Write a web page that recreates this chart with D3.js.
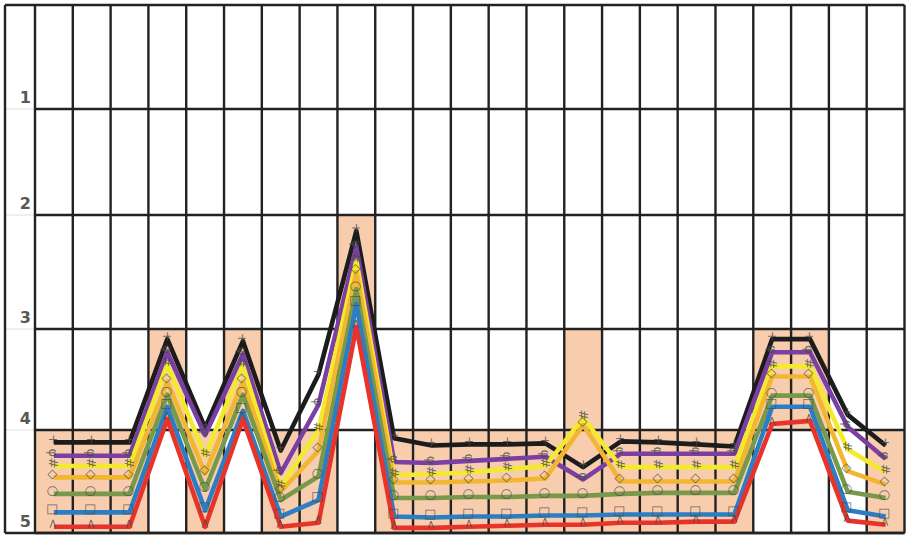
<!DOCTYPE html>
<html><head><meta charset="utf-8">
<script src="https://cdn.jsdelivr.net/npm/d3@7"></script>
<style>html,body{margin:0;padding:0;background:#fff;}svg{display:block;}</style>
</head><body><svg id="c" width="912" height="539"></svg>
<script>
// ---- data ----
const categories = ["c1","c2","c3","c4","c5","c6","c7","c8","c9","c10","c11","c12","c13","c14","c15","c16","c17","c18","c19","c20","c21","c22","c23"];
const yTicks = [1, 2, 3, 4, 5];
const yTickLabels = ["1", "2", "3", "4", "5"];
const shadeLo = [4,4,4,3,4,3,4,4,2,4,4,4,4,4,3,4,4,4,4,3,3,null,4];
const shadeHi = [5,5,5,4,5,4,5,5,3,5,5,5,5,5,5,5,5,5,5,4,4,null,5];
const seriesNames = ["black","purple","yellow","orange","green","blue","red"];
const seriesColors = ["#1c1c1c","#7b3fa3","#f3ea2e","#f2b630","#78984a","#2c7ec4","#e8332b"];
const seriesGlyphs = ["+","φ","#","◇","○","□","<"];
const black  = [4.12,4.12,4.12,3.10,3.98,3.12,4.20,3.45,2.14,4.08,4.15,4.14,4.14,4.13,4.36,4.11,4.12,4.14,4.16,3.10,3.10,3.85,4.15];
const purple = [4.25,4.25,4.25,3.23,4.05,3.25,4.42,3.75,2.28,4.31,4.32,4.30,4.28,4.26,4.48,4.23,4.23,4.23,4.23,3.23,3.23,3.97,4.28];
const yellow = [4.35,4.35,4.35,3.35,4.25,3.36,4.55,4.00,2.40,4.44,4.43,4.41,4.38,4.35,3.88,4.36,4.36,4.36,4.36,3.37,3.37,4.19,4.41];
const orange = [4.46,4.46,4.46,3.52,4.42,3.52,4.60,4.20,2.50,4.51,4.51,4.50,4.49,4.47,3.95,4.50,4.50,4.50,4.50,3.47,3.47,4.40,4.53];
const green  = [4.62,4.62,4.62,3.65,4.58,3.65,4.68,4.45,2.65,4.66,4.66,4.65,4.65,4.64,4.64,4.62,4.61,4.61,4.61,3.66,3.66,4.60,4.66];
const blue   = [4.80,4.80,4.80,3.77,4.78,3.81,4.84,4.68,2.78,4.84,4.85,4.84,4.84,4.83,4.83,4.82,4.82,4.82,4.82,3.77,3.77,4.78,4.84];
const red    = [4.94,4.94,4.94,3.89,4.94,3.89,4.94,4.90,2.98,4.95,4.95,4.94,4.93,4.92,4.92,4.90,4.90,4.89,4.89,3.94,3.91,4.88,4.92];
const seriesValues = [black, purple, yellow, orange, green, blue, red];

// ---- layout ----
const svg = d3.select("#c");
const left = 5, plotL = 35, plotR = 904.5;
const x = d3.scaleBand().domain(categories).range([plotL, plotR]).padding(0);
// scanned figure has slightly uneven row heights
const y = d3.scaleLinear().domain([0,1,2,3,4,5]).range([5,109,215,329,430,533]);

// shading
const shades = categories.map((c,i)=>({c, lo:shadeLo[i], hi:shadeHi[i]})).filter(d=>d.lo!==null);
svg.append("g").selectAll("rect").data(shades).join("rect")
  .attr("x", d=>x(d.c)).attr("width", x.bandwidth())
  .attr("y", d=>y(d.lo)).attr("height", d=>y(d.hi)-y(d.lo))
  .attr("fill", "#f7cdae");

// faint label-column guides
svg.append("g").selectAll("line").data(yTicks).join("line")
  .attr("x1", left).attr("x2", plotL).attr("y1", d=>y(d)).attr("y2", d=>y(d))
  .attr("stroke", "#dedede").attr("stroke-width", 1);

// grid
const grid = svg.append("g").attr("stroke", "#222").attr("stroke-width", 2.4);
const bounds = categories.map(c=>x(c)).concat([plotR]);
grid.selectAll("line.v").data(bounds).join("line").attr("class","v")
  .attr("x1", d=>d).attr("x2", d=>d).attr("y1", y(0)).attr("y2", y(5));
grid.selectAll("line.h").data(yTicks).join("line").attr("class","h")
  .attr("x1", plotL).attr("x2", plotR).attr("y1", d=>y(d)).attr("y2", d=>y(d));
grid.append("line").attr("x1", left).attr("x2", plotR).attr("y1", y(0)).attr("y2", y(0));
grid.append("line").attr("x1", left).attr("x2", plotR).attr("y1", y(5)).attr("y2", y(5));
grid.append("line").attr("x1", left).attr("x2", left).attr("y1", y(0)).attr("y2", y(5));

// y labels
svg.append("g").selectAll("text").data(yTicks).join("text")
  .attr("x", 31).attr("y", d=>y(d)-6)
  .attr("text-anchor", "end")
  .attr("font-family", "'DejaVu Sans', sans-serif").attr("font-weight", "bold")
  .attr("font-size", 16).attr("fill", "#585858")
  .text((d,i)=>yTickLabels[i]);

// series lines
const cx = c => x(c) + x.bandwidth()/2;
const line = d3.line().x(d=>cx(d.c)).y(d=>y(d.v)).curve(d3.curveLinear);
const series = seriesNames.map((n,k)=>({name:n, color:seriesColors[k], glyph:seriesGlyphs[k],
  pts: categories.map((c,i)=>({c, v:seriesValues[k][i]}))}));

svg.append("g").selectAll("path").data(series).join("path")
  .attr("d", d=>line(d.pts)).attr("fill","none")
  .attr("stroke", d=>d.color).attr("stroke-width", 4.6)
  .attr("stroke-linejoin","round").attr("stroke-linecap","butt");

// glyph markers (rotated)
const gm = svg.append("g");
series.forEach(s=>{
  gm.append("g").selectAll("text").data(s.pts).join("text")
    .attr("transform", d=>`translate(${cx(d.c)},${y(d.v)-3}) rotate(90)`)
    .attr("text-anchor","middle").attr("dy","0.35em")
    .attr("font-family","'DejaVu Sans', sans-serif").attr("font-size", 13)
    .attr("fill","#4a4a4a").attr("fill-opacity",0.8)
    .text(s.glyph);
});
</script></body></html>
